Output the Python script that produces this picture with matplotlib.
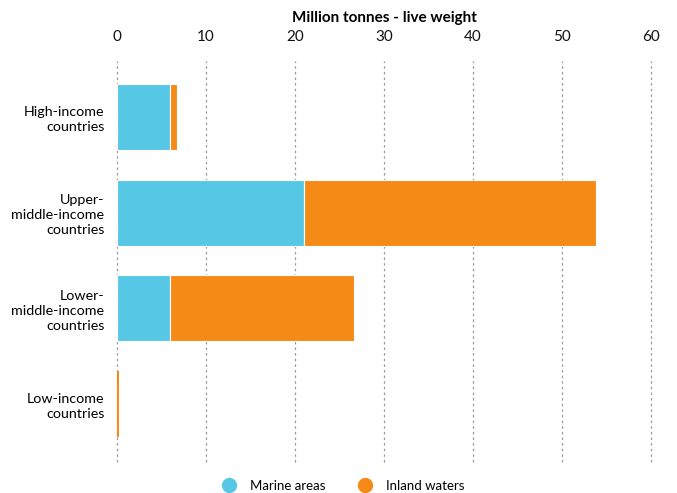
import matplotlib
matplotlib.use("Agg")
import matplotlib.pyplot as plt
import numpy as np

categories = ["High-income\ncountries", "Upper-\nmiddle-income\ncountries",
              "Lower-\nmiddle-income\ncountries", "Low-income\ncountries"]
marine = [6.0, 21.0, 6.0, 0.0]
inland = [0.7, 32.8, 20.6, 0.2]
xticks = [0, 10, 20, 30, 40, 50, 60]

plt.rcParams['font.family'] = ['Lato', 'DejaVu Sans']

c_marine = "#56C8E6"
c_inland = "#F58A16"

fig = plt.figure(figsize=(6.77, 4.93), dpi=100)
ax = fig.add_axes([117/677, 31/493, (651-117)/677, (462-61)/493])

y = np.arange(len(categories))
h = 0.69
lw = [0.8 if (m > 0.5 and i > 0.5) else 0 for m, i in zip(marine, inland)]
ax.barh(y, marine, height=h, color=c_marine, edgecolor="white", linewidth=lw, zorder=3, label="Marine areas")
ax.barh(y, inland, left=marine, height=h, color=c_inland,
        edgecolor="white", linewidth=lw, zorder=3, label="Inland waters")

ax.set_xlim(0, 60)
ax.set_ylim(3.606, -0.585)
ax.set_xticks(xticks)
ax.xaxis.tick_top()
ax.xaxis.set_label_position("top")
ax.set_xlabel("Million tonnes - live weight", fontsize=11, fontweight="bold", labelpad=6)
ax.tick_params(axis="x", length=0, labelsize=11, pad=12, colors="#111111")
ax.set_yticks(y)
ax.set_yticklabels(categories, fontsize=10.3, linespacing=1.3)
ax.tick_params(axis="y", length=0, pad=9)
for s in ax.spines.values():
    s.set_visible(False)
ax.grid(axis="x", color="#999999", linestyle=(0, (2, 2.5)), linewidth=0.9, zorder=0)
ax.grid(axis="y", visible=False)
for gl in ax.get_xgridlines():
    gl.set_clip_on(False)

fig.legend(handles=[
    plt.Line2D([], [], marker="o", linestyle="", markersize=10, color=c_marine, label="Marine areas"),
    plt.Line2D([], [], marker="o", linestyle="", markersize=10, color=c_inland, label="Inland waters")],
    loc="center", bbox_to_anchor=(340/677, 1 - 486/493), ncol=2, frameon=False,
    fontsize=9.5, handletextpad=0.6, columnspacing=2.0)

fig.savefig("out.png", dpi=100)
